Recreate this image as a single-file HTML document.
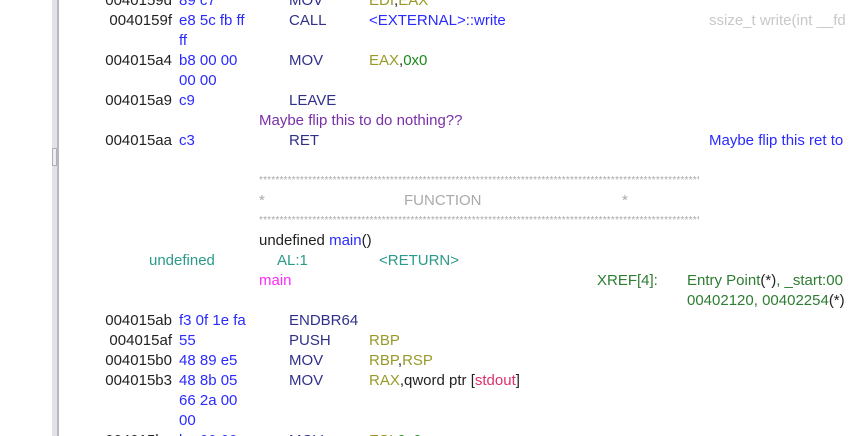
<!DOCTYPE html>
<html><head><meta charset="utf-8"><style>
html,body{margin:0;padding:0;background:#fff;width:851px;height:436px;overflow:hidden;position:relative;font-family:"Liberation Sans",sans-serif;font-size:15px;}
.w{position:absolute;left:0;top:1px;width:851px;height:436px;}
.r{position:absolute;height:20px;line-height:20px;white-space:nowrap;}
.a{color:#222;text-align:right;width:120px;left:52px;}
.b{color:#2a2aff;left:179px;}
.m{color:#30308a;left:289px;}
.o{left:369px;color:#222;}
.reg{color:#99992a;}
.num{color:#1a8a1a;}
.st{color:#aaa;font-size:10px;left:259px;width:440px;overflow:hidden;letter-spacing:0.2px;}
#bar{position:absolute;left:52px;top:0;width:5px;height:436px;background:#e2e2e8;border-right:2px solid #b8b8c0;}
#h{position:absolute;left:52px;top:148px;width:3px;height:16px;border:1px solid #b0b0b8;background:#eee;}
</style></head><body>
<div id="bar"></div><div id="h"></div>
<div class="w">
<div class="r a" style="top:-10px">0040159d</div><div class="r b" style="top:-10px">89 c7</div><div class="r m" style="top:-10px">MOV</div><div class="r o" style="top:-10px"><span class="reg">EDI</span>,<span class="reg">EAX</span></div>

<div class="r a" style="top:10px">0040159f</div><div class="r b" style="top:10px">e8 5c fb ff</div><div class="r m" style="top:10px">CALL</div><div class="r o" style="top:10px;color:#2a2aff">&lt;EXTERNAL&gt;::write</div><div class="r" style="top:10px;left:709px;color:#c8c8c8">ssize_t write(int __fd</div>
<div class="r b" style="top:30px">ff</div>

<div class="r a" style="top:50px">004015a4</div><div class="r b" style="top:50px">b8 00 00</div><div class="r m" style="top:50px">MOV</div><div class="r o" style="top:50px"><span class="reg">EAX</span>,<span class="num">0x0</span></div>
<div class="r b" style="top:70px">00 00</div>

<div class="r a" style="top:90px">004015a9</div><div class="r b" style="top:90px">c9</div><div class="r m" style="top:90px">LEAVE</div>
<div class="r" style="top:110px;left:259px;color:#7a30a8">Maybe flip this to do nothing??</div>
<div class="r a" style="top:130px">004015aa</div><div class="r b" style="top:130px">c3</div><div class="r m" style="top:130px">RET</div><div class="r" style="top:130px;left:709px;color:#2a2aff">Maybe flip this ret to</div>

<div class="r st" style="top:170px">****************************************************************************************************************************</div>
<div class="r" style="top:190px;left:259px;color:#aaa">*</div><div class="r" style="top:190px;left:404px;color:#aaa">FUNCTION</div><div class="r" style="top:190px;left:622px;color:#aaa">*</div>
<div class="r st" style="top:210px">****************************************************************************************************************************</div>

<div class="r" style="top:230px;left:259px;color:#222">undefined <span style="color:#2a2aff">main</span>()</div>
<div class="r" style="top:250px;left:149px;color:#2a9a8a">undefined</div><div class="r" style="top:250px;left:277px;color:#2a9a8a">AL:1</div><div class="r" style="top:250px;left:379px;color:#2a9a8a">&lt;RETURN&gt;</div>
<div class="r" style="top:270px;left:259px;color:#ff2aff">main</div><div class="r" style="top:270px;left:597px;color:#2e7d32">XREF[4]:</div><div class="r" style="top:270px;left:687px;color:#2e7d32">Entry Point<span style="color:#222">(*)</span>, _start:00</div>
<div class="r" style="top:290px;left:687px;color:#2e7d32">00402120, 00402254<span style="color:#222">(*)</span></div>

<div class="r a" style="top:310px">004015ab</div><div class="r b" style="top:310px">f3 0f 1e fa</div><div class="r m" style="top:310px">ENDBR64</div>
<div class="r a" style="top:330px">004015af</div><div class="r b" style="top:330px">55</div><div class="r m" style="top:330px">PUSH</div><div class="r o" style="top:330px"><span class="reg">RBP</span></div>
<div class="r a" style="top:350px">004015b0</div><div class="r b" style="top:350px">48 89 e5</div><div class="r m" style="top:350px">MOV</div><div class="r o" style="top:350px"><span class="reg">RBP</span>,<span class="reg">RSP</span></div>
<div class="r a" style="top:370px">004015b3</div><div class="r b" style="top:370px">48 8b 05</div><div class="r m" style="top:370px">MOV</div><div class="r o" style="top:370px"><span class="reg">RAX</span>,qword ptr [<span style="color:#e0306a">stdout</span>]</div>
<div class="r b" style="top:390px">66 2a 00</div>
<div class="r b" style="top:410px">00</div>
<div class="r a" style="top:430px">004015ba</div><div class="r b" style="top:430px">be 00 00</div><div class="r m" style="top:430px">MOV</div><div class="r o" style="top:430px"><span class="reg">ESI</span>,<span class="num">0x0</span></div>
</div>
</body></html>
